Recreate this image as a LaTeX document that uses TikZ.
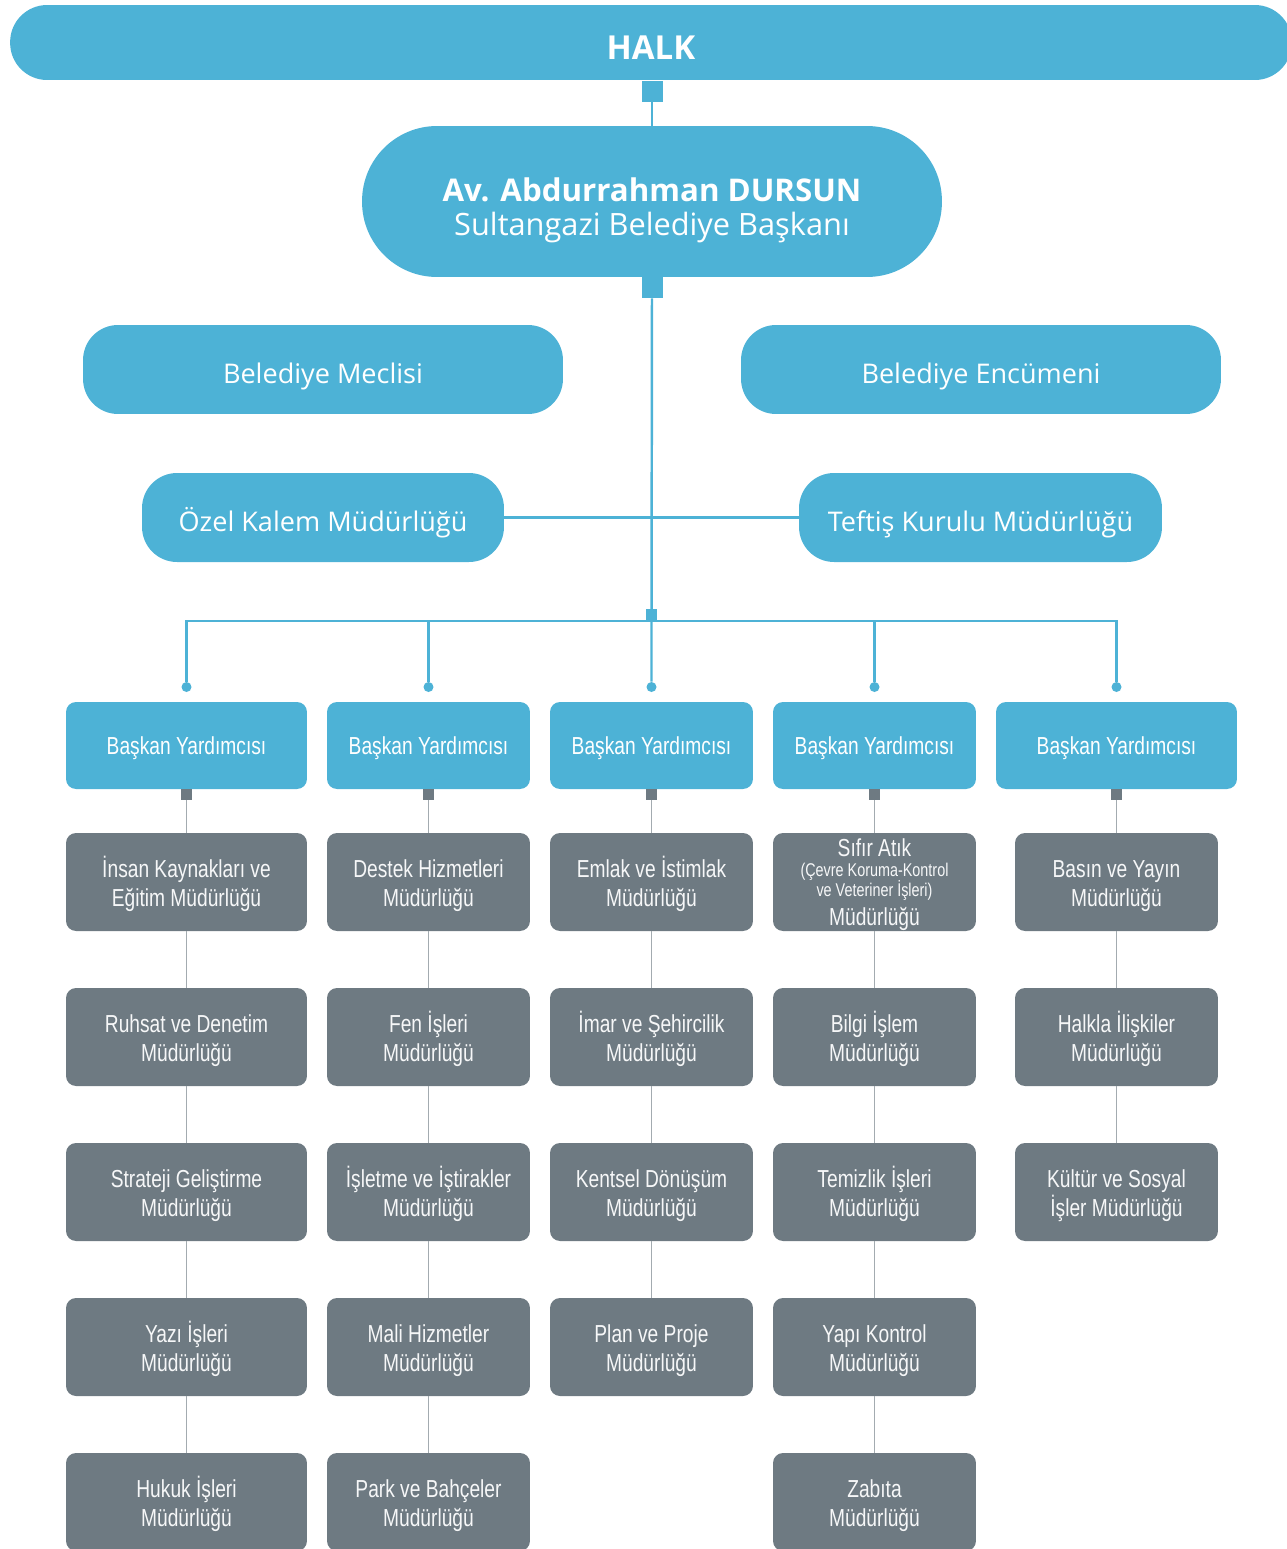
\documentclass[tikz,border=0pt]{standalone}
\usepackage{fontspec}
\setmainfont{Open Sans}
\newfontfamily\cond[FakeStretch=0.78]{Liberation Sans}
\definecolor{bl}{HTML}{4DB2D6}
\definecolor{gr}{HTML}{6E7A82}
\definecolor{gl}{HTML}{A3ABB0}
\newcommand\rb[2]{\raisebox{#1}[0pt][0pt]{#2}}
\newcommand\mlt[2]{\raisebox{#1}[0pt][0pt]{\vbox{\lineskiplimit=-100pt\halign{\hfil##\hfil\cr#2\crcr}}}}
\begin{document}
\begin{tikzpicture}[x=0.02cm,y=-0.02cm,
  bluebox/.style={fill=bl, text=white, align=center, inner sep=0pt},
  upbox/.style={bluebox, rounded corners=0.7cm, minimum height=1.78cm, font=\fontsize{15.4}{18}\selectfont},
  bybox/.style={bluebox, rounded corners=0.2cm, minimum height=1.74cm, font=\cond\fontsize{14}{16.5}\selectfont},
  dep/.style={fill=gr, text=white!94!gr, rounded corners=0.2cm, minimum height=1.96cm, inner sep=0pt, font=\cond\fontsize{14}{16.5}\selectfont},
  wA/.style={minimum width=4.82cm},
  wB/.style={minimum width=4.06cm},
  bsq/.style={fill=bl, minimum size=0.42cm, inner sep=0pt},
  gsq/.style={fill=gr, minimum size=0.22cm, inner sep=0pt},
  jsqs/.style={fill=bl, minimum size=0.22cm, inner sep=0pt},
  dotn/.style={circle, fill=bl, minimum size=0.2cm, inner sep=0pt},
  bline/.style={draw=bl, line width=1.4pt},
  gline/.style={draw=gl, line width=1.1pt}]
\useasboundingbox (0,0) rectangle (1287,1549);
% top
\node[bluebox, rounded corners=0.74cm, minimum width=25.64cm, minimum height=1.5cm, font=\bfseries\fontsize{18.8}{20}\selectfont] (halk) at (651,42.5) {\rb{-9.4pt}{HALK}};
\node[bsq] (hsq) at (652,91) {};
\node[bluebox, rounded corners=1.5cm, minimum width=11.6cm, minimum height=3.02cm, font=\fontsize{17.5}{19.4}\selectfont] (mayor) at (652,201.5)
  {\mlt{-19.6pt}{{\bfseries\fontsize{17.8}{19.4}\selectfont Av. Abdurrahman DURSUN}\cr Sultangazi Belediye Başkanı}};
\node[bsq] (msq) at (652,287.5) {};
\node[upbox, minimum width=9.6cm] (meclis) at (323,369.5) {\rb{-7.9pt}{Belediye Meclisi}};
\node[upbox, minimum width=9.6cm] (encumen) at (981,369.5) {\rb{-7.9pt}{Belediye Encümeni}};
\node[upbox, minimum width=7.24cm] (ozel) at (323,517.5) {\rb{-7.9pt}{Özel Kalem Müdürlüğü}};
\node[upbox, minimum width=7.26cm] (teftis) at (980.5,517.5) {\rb{-7.9pt}{Teftiş Kurulu Müdürlüğü}};
\coordinate (bus) at (651.5,621);
% deputies
\node[bybox, wA] (by1) at (186.5,745.5) {\rb{-5.3pt}{Başkan Yardımcısı}};
\node[bybox, wB] (by2) at (428.5,745.5) {\rb{-5.3pt}{Başkan Yardımcısı}};
\node[bybox, wB] (by3) at (651.5,745.5) {\rb{-5.3pt}{Başkan Yardımcısı}};
\node[bybox, wB] (by4) at (874.5,745.5) {\rb{-5.3pt}{Başkan Yardımcısı}};
\node[bybox, wA] (by5) at (1116.5,745.5) {\rb{-5.3pt}{Başkan Yardımcısı}};
\foreach \i/\xx in {1/186.5,2/428.5,3/651.5,4/874.5,5/1116.5}{
  \node[dotn] (d\i) at (\xx,687) {};
  \node[gsq] (s\i) at (\xx,794.5) {};
}
% connectors (blue)
\draw[bline] (hsq) -- (mayor.north);
\draw[bline] (msq) -- (bus) -- (d3);
\draw[bline] (ozel.east) -- (teftis.west);
\draw[bline] (d1) -- (d1 |- bus) -- (d5 |- bus) -- (d5);
\draw[bline] (d2 |- bus) -- (d2);
\draw[bline] (d4 |- bus) -- (d4);
\node[jsqs] (jsq) at (651.5,614.5) {};
% column 1
\node[dep, wA] (g11) at (186.5,882) {\mlt{-13.7pt}{İnsan Kaynakları ve\cr Eğitim Müdürlüğü}};
\node[dep, wA] (g12) at (186.5,1037) {\mlt{-13.7pt}{Ruhsat ve Denetim\cr Müdürlüğü}};
\node[dep, wA] (g13) at (186.5,1192) {\mlt{-13.7pt}{Strateji Geliştirme\cr Müdürlüğü}};
\node[dep, wA] (g14) at (186.5,1347) {\mlt{-13.7pt}{Yazı İşleri\cr Müdürlüğü}};
\node[dep, wA] (g15) at (186.5,1502) {\mlt{-13.7pt}{Hukuk İşleri\cr Müdürlüğü}};
% column 2
\node[dep, wB] (g21) at (428.5,882) {\mlt{-13.7pt}{Destek Hizmetleri\cr Müdürlüğü}};
\node[dep, wB] (g22) at (428.5,1037) {\mlt{-13.7pt}{Fen İşleri\cr Müdürlüğü}};
\node[dep, wB] (g23) at (428.5,1192) {\mlt{-13.7pt}{İşletme ve İştirakler\cr Müdürlüğü}};
\node[dep, wB] (g24) at (428.5,1347) {\mlt{-13.7pt}{Mali Hizmetler\cr Müdürlüğü}};
\node[dep, wB] (g25) at (428.5,1502) {\mlt{-13.7pt}{Park ve Bahçeler\cr Müdürlüğü}};
% column 3
\node[dep, wB] (g31) at (651.5,882) {\mlt{-13.7pt}{Emlak ve İstimlak\cr Müdürlüğü}};
\node[dep, wB] (g32) at (651.5,1037) {\mlt{-13.7pt}{İmar ve Şehircilik\cr Müdürlüğü}};
\node[dep, wB] (g33) at (651.5,1192) {\mlt{-13.7pt}{Kentsel Dönüşüm\cr Müdürlüğü}};
\node[dep, wB] (g34) at (651.5,1347) {\mlt{-13.7pt}{Plan ve Proje\cr Müdürlüğü}};
% column 4
\node[dep, wB, font=\cond\fontsize{14}{11.4}\selectfont] (g41) at (874.5,882) {\mlt{-24.5pt}{Sıfır Atık\cr {\fontsize{10.5}{11.4}\selectfont (Çevre Koruma-Kontrol}\cr {\fontsize{10.5}{11.4}\selectfont ve Veteriner İşleri)}\cr\noalign{\vskip 4.6pt} Müdürlüğü}};
\node[dep, wB] (g42) at (874.5,1037) {\mlt{-13.7pt}{Bilgi İşlem\cr Müdürlüğü}};
\node[dep, wB] (g43) at (874.5,1192) {\mlt{-13.7pt}{Temizlik İşleri\cr Müdürlüğü}};
\node[dep, wB] (g44) at (874.5,1347) {\mlt{-13.7pt}{Yapı Kontrol\cr Müdürlüğü}};
\node[dep, wB] (g45) at (874.5,1502) {\mlt{-13.7pt}{Zabıta\cr Müdürlüğü}};
% column 5
\node[dep, wB] (g51) at (1116.5,882) {\mlt{-13.7pt}{Basın ve Yayın\cr Müdürlüğü}};
\node[dep, wB] (g52) at (1116.5,1037) {\mlt{-13.7pt}{Halkla İlişkiler\cr Müdürlüğü}};
\node[dep, wB] (g53) at (1116.5,1192) {\mlt{-13.7pt}{Kültür ve Sosyal\cr İşler Müdürlüğü}};
% gray connectors
\draw[gline] (s1) -- (g11) (g11) -- (g12) (g12) -- (g13) (g13) -- (g14) (g14) -- (g15);
\draw[gline] (s2) -- (g21) (g21) -- (g22) (g22) -- (g23) (g23) -- (g24) (g24) -- (g25);
\draw[gline] (s3) -- (g31) (g31) -- (g32) (g32) -- (g33) (g33) -- (g34);
\draw[gline] (s4) -- (g41) (g41) -- (g42) (g42) -- (g43) (g43) -- (g44) (g44) -- (g45);
\draw[gline] (s5) -- (g51) (g51) -- (g52) (g52) -- (g53);
\end{tikzpicture}
\end{document}
